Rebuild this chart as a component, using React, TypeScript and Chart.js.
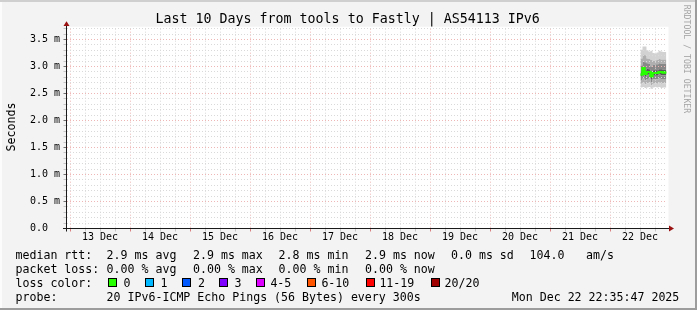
import React, { useEffect, useRef } from "react";
import { Chart, registerables } from "chart.js";

Chart.register(...registerables);

// ---------- texts ----------
const chartTitle = "Last 10 Days from tools to Fastly | AS54113 IPv6";
const yAxisTitle = "Seconds";
const watermarkText = "RRDTOOL / TOBI OETIKER";

// ---------- axes ----------
const dayLabels = ["13 Dec", "14 Dec", "15 Dec", "16 Dec", "17 Dec", "18 Dec", "19 Dec", "20 Dec", "21 Dec", "22 Dec"];
const spanHours = 240; // 10 days, start Dec 12 22:35:47
const firstMidnightHour = 1.4036; // Dec 13 00:00 relative to start
const xGridStepHours = 6;
const xGridCount = 40;
const yMaxMs = 3.7;
const yMinorStepMs = 0.1;
const yMinorCount = 38;

// ---------- data (hours since start, values in ms) ----------
const sampleHours = [229.6, 230.4, 231.2, 232.0, 232.8, 233.6, 234.4, 235.2, 236.0, 236.8, 237.6, 238.4, 239.2, 240.0];
const rttMin = [2.60, 2.61, 2.62, 2.60, 2.61, 2.62, 2.59, 2.61, 2.62, 2.61, 2.62, 2.60, 2.61, 2.61];
const rttP10 = [2.67, 2.68, 2.70, 2.67, 2.69, 2.70, 2.65, 2.68, 2.69, 2.68, 2.70, 2.68, 2.69, 2.69];
const rttP25 = [2.74, 2.75, 2.78, 2.74, 2.77, 2.78, 2.71, 2.76, 2.77, 2.76, 2.78, 2.77, 2.77, 2.77];
const rttP40 = [2.80, 2.81, 2.88, 2.81, 2.84, 2.85, 2.77, 2.83, 2.83, 2.83, 2.85, 2.84, 2.84, 2.84];
const rttP60 = [2.92, 2.91, 3.01, 2.93, 2.96, 2.95, 2.89, 2.93, 2.94, 2.93, 2.95, 2.95, 2.94, 2.94];
const rttP75 = [3.03, 3.02, 3.10, 3.08, 3.06, 3.05, 3.00, 3.03, 3.04, 3.04, 3.06, 3.05, 3.05, 3.05];
const rttP90 = [3.16, 3.15, 3.22, 3.21, 3.15, 3.14, 3.12, 3.10, 3.11, 3.12, 3.14, 3.13, 3.13, 3.13];
const rttMax = [3.30, 3.31, 3.37, 3.37, 3.30, 3.28, 3.29, 3.25, 3.24, 3.26, 3.29, 3.28, 3.27, 3.27];
const rttMedian = [2.85, 2.85, 2.97, 2.86, 2.90, 2.90, 2.82, 2.88, 2.88, 2.88, 2.90, 2.90, 2.89, 2.89];

// ---------- legend ----------
const rttStatsLabel = "median rtt:";
const rttStats = ["2.9 ms avg", "2.9 ms max", "2.8 ms min", "2.9 ms now", "0.0 ms sd", "104.0", "am/s"];
const lossStatsLabel = "packet loss:";
const lossStats = ["0.00 % avg", "0.00 % max", "0.00 % min", "0.00 % now"];
const lossColorLabel = "loss color:";
const lossCategories = ["0", "1", "2", "3", "4-5", "6-10", "11-19", "20/20"];
const lossCategoryColors = ["#26ff00", "#00b8ff", "#0059ff", "#7e00ff", "#dd00ff", "#ff5500", "#ff0000", "#a10000"];
const probeLabel = "probe:";
const probeText = "20 IPv6-ICMP Echo Pings (56 Bytes) every 300s";
const timestampText = "Mon Dec 22 22:35:47 2025";

// ---------- layout (styles) ----------
const W = 697;
const H = 310;
const PLOT_LEFT = 66.5;
const PLOT_RIGHT = 666.5;
const PLOT_TOP = 28.7;
const PLOT_BOTTOM = 228.5;
const MONO = "'DejaVu Sans Mono', monospace";
const statX = [106.6, 193, 278.6, 365, 451, 529.5, 586];
const rowTops = [247.6, 261.7, 275.7, 290];
const boxX = [108, 145, 182, 219, 256, 307, 366, 431];
const boxLabelX = [123.4, 160.6, 198, 234.6, 270.4, 321.4, 379.4, 444.6];

const MAJOR_GRID = "#efb6b6";
const MINOR_GRID = "#d9d9d9";
const smokeColors = ["#d2d2d2", "#afafaf", "#888888", "#585858", "#888888", "#afafaf", "#d2d2d2"];
const MEDIAN_INDEX = 8;

const frameAndAxes = {
  id: "rrdFrameAndAxes",
  beforeDraw(chart: any) {
    const { ctx, width, height, chartArea: a } = chart;
    ctx.save();
    ctx.fillStyle = "#f3f3f3";
    ctx.fillRect(0, 0, width, height);
    ctx.fillStyle = "#cfcfcf";
    ctx.fillRect(0, 0, width, 2);
    ctx.fillStyle = "#fcfcfc";
    ctx.fillRect(0, 2, 2, height - 2);
    ctx.fillStyle = "#9c9c9c";
    ctx.fillRect(0, height - 2, width, 2);
    ctx.fillRect(width - 2, 0, 2, height);
    ctx.fillStyle = "#ffffff";
    ctx.fillRect(a.left, a.top - 2, a.right - a.left + 2, a.bottom - a.top + 2);
    ctx.restore();
  },
  afterDraw(chart: any) {
    const { ctx, chartArea: a } = chart;
    // median line stays on top of the grid
    const meta = chart.getDatasetMeta(MEDIAN_INDEX);
    if (meta && meta.controller) {
      ctx.save();
      ctx.beginPath();
      ctx.rect(a.left, a.top, a.right - a.left, a.bottom - a.top);
      ctx.clip();
      meta.controller.draw();
      ctx.restore();
    }
    ctx.save();
    ctx.strokeStyle = "#1a1a1a";
    ctx.lineWidth = 1;
    ctx.beginPath();
    ctx.moveTo(a.left, a.bottom + 3);
    ctx.lineTo(a.left, a.top - 3);
    ctx.moveTo(a.left - 3.5, a.bottom);
    ctx.lineTo(a.right + 2.5, a.bottom);
    ctx.stroke();
    ctx.fillStyle = "#9b1212";
    ctx.beginPath();
    ctx.moveTo(a.left - 3, a.top - 2.7);
    ctx.lineTo(a.left + 3, a.top - 2.7);
    ctx.lineTo(a.left, a.top - 7.5);
    ctx.closePath();
    ctx.fill();
    ctx.beginPath();
    ctx.moveTo(a.right + 2.5, a.bottom - 3);
    ctx.lineTo(a.right + 2.5, a.bottom + 3);
    ctx.lineTo(a.right + 7.5, a.bottom);
    ctx.closePath();
    ctx.fill();
    ctx.restore();
  },
};

function band(values: number[], color: string | undefined) {
  return {
    data: sampleHours.map((h, i) => ({ x: h, y: values[i] })),
    stepped: "after" as const,
    borderWidth: 0,
    borderColor: "rgba(0,0,0,0)",
    backgroundColor: color || "rgba(0,0,0,0)",
    pointRadius: 0,
    fill: color ? "-1" : false,
    order: 1,
  };
}

export default function App() {
  const ref = useRef<HTMLCanvasElement>(null);

  useEffect(() => {
    const xTicks = Array.from({ length: xGridCount }, (_, k) => firstMidnightHour + k * xGridStepHours);
    const yTicks = Array.from({ length: yMinorCount }, (_, i) => i * yMinorStepMs);

    const chart = new Chart(ref.current as HTMLCanvasElement, {
      type: "line",
      data: {
        datasets: [
          band(rttMin, undefined),
          band(rttP10, smokeColors[0]),
          band(rttP25, smokeColors[1]),
          band(rttP40, smokeColors[2]),
          band(rttP60, smokeColors[3]),
          band(rttP75, smokeColors[4]),
          band(rttP90, smokeColors[5]),
          band(rttMax, smokeColors[6]),
          {
            data: sampleHours.map((h, i) => ({ x: h, y: rttMedian[i] })),
            stepped: "after",
            borderColor: lossCategoryColors[0],
            borderWidth: 2,
            pointRadius: 0,
            fill: false,
            order: 0,
          },
        ] as any,
      },
      options: {
        animation: false,
        responsive: false,
        devicePixelRatio: 1,
        events: [],
        layout: { padding: { left: 0, top: PLOT_TOP, right: W - PLOT_RIGHT, bottom: 0 } },
        plugins: { legend: { display: false }, tooltip: { enabled: false }, title: { display: false } },
        scales: {
          x: {
            type: "linear",
            min: 0,
            max: spanHours,
            afterBuildTicks: (s: any) => {
              s.ticks = xTicks.map((v) => ({ value: v }));
            },
            afterFit: (s: any) => {
              s.height = H - PLOT_BOTTOM;
            },
            ticks: {
              autoSkip: false,
              maxRotation: 0,
              minRotation: 0,
              padding: 0,
              color: "#000",
              font: { family: MONO, size: 10 },
              callback: (_v: any, i: number) => (i % 4 === 2 ? dayLabels[(i - 2) / 4] : ""),
            },
            grid: {
              z: 1,
              lineWidth: 1,
              color: (c: any) => (c.index % 4 === 0 ? MAJOR_GRID : MINOR_GRID),
              tickColor: (c: any) => (c.index % 4 === 0 ? "#d88080" : "#c4c4c4"),
              tickLength: 3,
              drawTicks: true,
            },
            border: { display: false, dash: [1, 2] },
          },
          y: {
            type: "linear",
            min: 0,
            max: yMaxMs,
            afterBuildTicks: (s: any) => {
              s.ticks = yTicks.map((v) => ({ value: v }));
            },
            afterFit: (s: any) => {
              s.width = PLOT_LEFT;
            },
            ticks: {
              autoSkip: false,
              padding: 3.5,
              color: "#000",
              font: { family: MONO, size: 10 },
              callback: (v: any, i: number) => (i % 5 === 0 ? (i === 0 ? "0.0  " : Number(v).toFixed(1) + " m") : ""),
            },
            grid: {
              z: 1,
              lineWidth: 1,
              color: (c: any) => (c.index % 5 === 0 ? MAJOR_GRID : MINOR_GRID),
              tickColor: (c: any) => (c.index % 5 === 0 ? "#707070" : "#c4c4c4"),
              tickLength: 3,
              drawTicks: true,
            },
            border: { display: false, dash: [1, 2] },
          },
        },
      } as any,
      plugins: [frameAndAxes],
    });
    return () => chart.destroy();
  }, []);

  const text = (s: string, left: number, top: number, key: string) => (
    <div
      key={key}
      style={{
        position: "absolute",
        left,
        top,
        fontFamily: MONO,
        fontSize: 11.6,
        lineHeight: "14px",
        whiteSpace: "pre",
        color: "#000",
      }}
    >
      {s}
    </div>
  );

  return (
    <div style={{ position: "absolute", left: 0, top: 0, width: W, height: H, overflow: "hidden" }}>
      <canvas ref={ref} width={W} height={H} style={{ position: "absolute", left: 0, top: 0, width: W, height: H }} />
      <div
        style={{
          position: "absolute",
          left: 155.5,
          top: 10.7,
          fontFamily: MONO,
          fontSize: 13.3,
          lineHeight: "16px",
          whiteSpace: "pre",
          color: "#000",
        }}
      >
        {chartTitle}
      </div>
      <div
        style={{
          position: "absolute",
          left: -19,
          top: 120,
          width: 60,
          textAlign: "center",
          fontFamily: MONO,
          fontSize: 11.6,
          lineHeight: "14px",
          transform: "rotate(-90deg)",
          color: "#000",
        }}
      >
        {yAxisTitle}
      </div>
      <div
        style={{
          position: "absolute",
          left: 626.5,
          top: 53.5,
          width: 120,
          textAlign: "center",
          fontFamily: MONO,
          fontSize: 8.2,
          lineHeight: "10px",
          whiteSpace: "pre",
          transform: "rotate(90deg)",
          color: "#a4a4a4",
        }}
      >
        {watermarkText}
      </div>
      {text(rttStatsLabel, 15.5, rowTops[0], "rl")}
      {rttStats.map((s, i) => text(s, statX[i], rowTops[0], "rs" + i))}
      {text(lossStatsLabel, 15.5, rowTops[1], "ll")}
      {lossStats.map((s, i) => text(s, statX[i], rowTops[1], "ls" + i))}
      {text(lossColorLabel, 15.5, rowTops[2], "cl")}
      {lossCategories.map((s, i) => (
        <React.Fragment key={"c" + i}>
          <div
            style={{
              position: "absolute",
              left: boxX[i],
              top: 278,
              width: 9,
              height: 9,
              boxSizing: "border-box",
              border: "1px solid #000",
              background: lossCategoryColors[i],
            }}
          />
          {text(s, boxLabelX[i], rowTops[2], "cs" + i)}
        </React.Fragment>
      ))}
      {text(probeLabel, 15.5, rowTops[3], "pl")}
      {text(probeText, 106.6, rowTops[3], "pt")}
      {text(timestampText, 511.8, rowTops[3], "ts")}
    </div>
  );
}
